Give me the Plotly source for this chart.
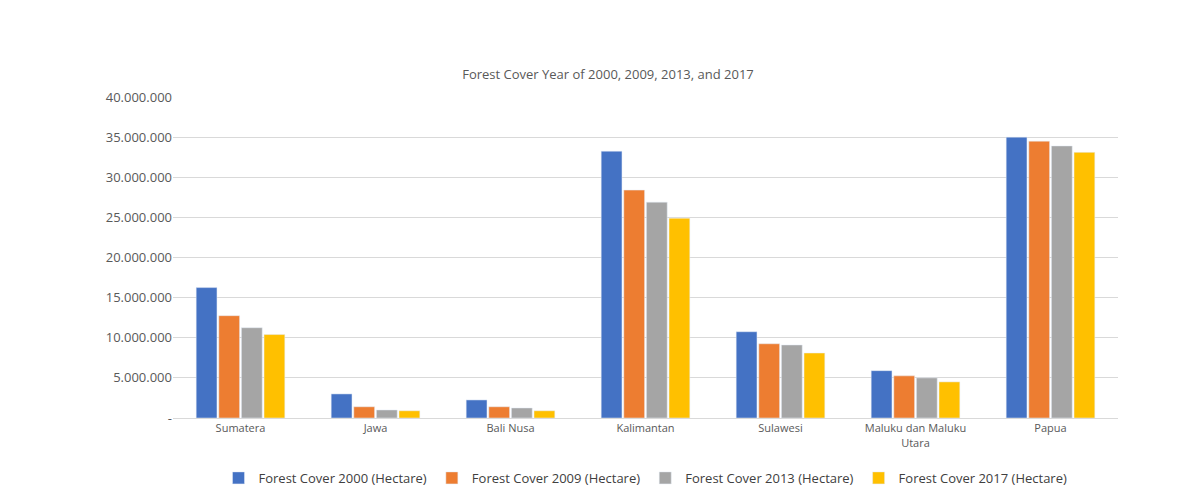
import plotly.graph_objects as go

regions = ["Sumatera", "Jawa", "Bali Nusa", "Kalimantan", "Sulawesi", "Maluku dan Maluku<br>Utara", "Papua"]
fc2000 = [16250000, 3000000, 2250000, 33250000, 10750000, 5900000, 35000000]
fc2009 = [12750000, 1400000, 1400000, 28400000, 9250000, 5250000, 34500000]
fc2013 = [11250000, 1000000, 1250000, 26900000, 9100000, 5000000, 33900000]
fc2017 = [10400000, 900000, 900000, 24900000, 8100000, 4500000, 33100000]
names = ["Forest Cover 2000 (Hectare)", "Forest Cover 2009 (Hectare)",
         "Forest Cover 2013 (Hectare)", "Forest Cover 2017 (Hectare)"]
colors = ["#4472C4", "#ED7D31", "#A5A5A5", "#FFC000"]
tickvals = [0, 5000000, 10000000, 15000000, 20000000, 25000000, 30000000, 35000000, 40000000]
ticktext = ["-", "5.000.000", "10.000.000", "15.000.000", "20.000.000", "25.000.000",
            "30.000.000", "35.000.000", "40.000.000"]

fig = go.Figure()
for n, c, v in zip(names, colors, [fc2000, fc2009, fc2013, fc2017]):
    fig.add_bar(x=regions, y=v, name=n, marker_color=c)

fig.update_layout(
    width=1200, height=499, paper_bgcolor="white", plot_bgcolor="white",
    font=dict(family="Open Sans", color="#595959", size=12),
    title=dict(text="Forest Cover Year of 2000, 2009, 2013, and 2017", x=0.5, y=0.875,
               xanchor="center", font=dict(size=13, color="#595959")),
    margin=dict(l=165, r=90, t=89, b=89),
    bargap=0.33, bargroupgap=0.08,
    legend=dict(orientation="h", x=0.5, xanchor="center", y=-0.14, yanchor="top",
                font=dict(size=13, color="#404040")),
    separators=",.",
)
fig.update_yaxes(range=[0, 40000000], tickvals=tickvals, ticktext=ticktext,
                 gridcolor="#D9D9D9", zeroline=False, tickfont=dict(size=13))
fig.update_xaxes(showline=True, linecolor="#D9D9D9", tickfont=dict(size=11))
fig.write_html("out.html")
